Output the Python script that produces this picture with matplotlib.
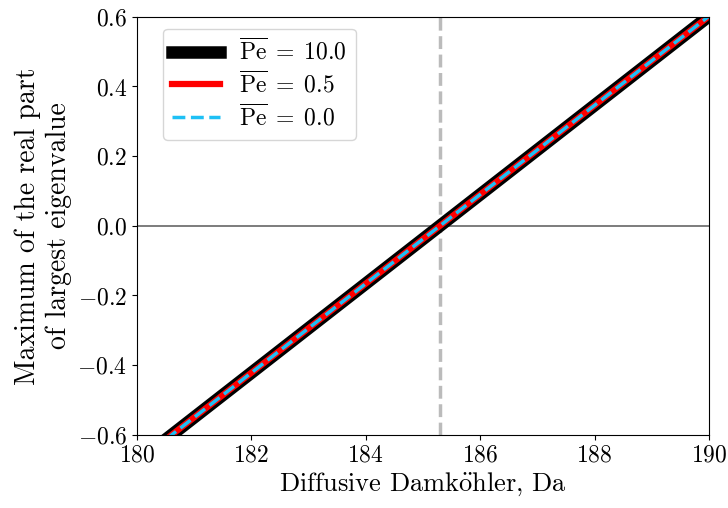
import matplotlib

matplotlib.use('Agg')
import numpy as np
import matplotlib.pyplot as plt

# Computer Modern look without LaTeX
plt.rcParams['font.family'] = 'serif'
plt.rcParams['font.serif'] = ['cmr10']
plt.rcParams['mathtext.fontset'] = 'cm'
plt.rcParams['axes.formatter.use_mathtext'] = True
plt.rcParams['font.size'] = 17

# Data
da = np.array([180.0, 182.0, 184.0, 186.0, 188.0, 190.0])
eig_pe10 = np.array([-0.678, -0.422, -0.166, 0.090, 0.346, 0.602])
eig_pe05 = np.array([-0.678, -0.422, -0.166, 0.090, 0.346, 0.602])
eig_pe00 = np.array([-0.678, -0.422, -0.166, 0.090, 0.346, 0.602])
da_critical = 185.3

fig, ax = plt.subplots(figsize=(7.28, 5.08), dpi=100)

ax.axhline(0, color='#666666', lw=1.2, zorder=1)
ax.axvline(da_critical, color='#bbbbbb', lw=2.5, ls='--', zorder=1)

ax.plot(da, eig_pe10, color='black', lw=9, label=r'$\overline{\mathrm{Pe}}\;=\;10.0$')
ax.plot(da, eig_pe05, color='red', lw=4.5, label=r'$\overline{\mathrm{Pe}}\;=\;0.5$')
ax.plot(da, eig_pe00, color='#1ec0f5', lw=2.5, ls='--', label=r'$\overline{\mathrm{Pe}}\;=\;0.0$')

ax.set_xlim(180, 190)
ax.set_ylim(-0.6, 0.6)
ax.set_xticks([180, 182, 184, 186, 188, 190])
ax.set_yticks([-0.6, -0.4, -0.2, 0.0, 0.2, 0.4, 0.6])

ax.set_xlabel(r'Diffusive Damk$\ddot{\mathrm{o}}$hler, Da', fontsize=19, labelpad=3)
ax.set_ylabel('Maximum of the real part\nof largest eigenvalue', fontsize=20, labelpad=4)
ax.legend(loc='upper left', bbox_to_anchor=(0.025, 1.0),
          labelspacing=0.25, handlelength=2.0)

fig.subplots_adjust(left=0.188, right=0.974, top=0.967, bottom=0.144)
fig.savefig('out.png', dpi=100)
